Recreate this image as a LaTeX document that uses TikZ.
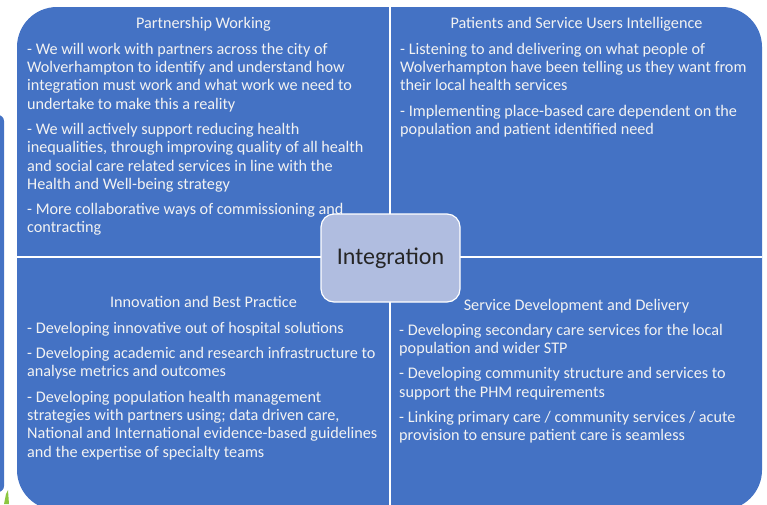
\documentclass[tikz,border=0pt]{standalone}
\usepackage{fontspec}
\setmainfont{Carlito}
\definecolor{quadblue}{HTML}{4472C4}
\definecolor{hubfill}{HTML}{B0BDE0}
\definecolor{leafgreen}{HTML}{8CC63F}
\begin{document}
\begin{tikzpicture}[x=1pt,y=-1pt,
  head/.style={anchor=base, inner sep=0pt, text=white!95!black, font=\fontsize{16.2}{18.3}\selectfont},
  body/.style={anchor=north west, inner sep=0pt, align=left, text=white!95!black, font=\fontsize{16.2}{18.3}\selectfont},
  hub/.style={draw=white, line width=1.2pt, fill=hubfill, rounded corners=13pt, minimum width=139pt, minimum height=88pt, text=black!85, font=\fontsize{24}{28}\selectfont}]
\clip (0,0) rectangle (767,504);
% bar of the next panel, just showing at the left
\fill[quadblue, rounded corners=6pt] (-20,115) rectangle (4,492);
\fill[leafgreen] (4,504) -- (6,494) -- (8,490) -- (9,504) -- cycle;
% the four quarters
\fill[quadblue, rounded corners=40pt] (17,7) rectangle (762,510);
\draw[white, line width=1.2pt] (390,7) -- (390,510);
\draw[white, line width=1.2pt] (17,257) -- (762,257);
% top left
\node[head] (pw) at (203.5,28) {Partnership Working};
\node[body] (pwtext) at (27,41.2) {\strut- We will work with partners across the city of\\
Wolverhampton to identify and understand how\\
integration must work and what work we need to\\
undertake to make this a reality\\[7pt]
- We will actively support reducing health\\
inequalities, through improving quality of all health\\
and social care related services in line with the\\
Health and Well-being strategy\\[7pt]
- More collaborative ways of commissioning and\\
contracting};
% top right
\node[head] (psu) at (576.5,28) {Patients and Service Users Intelligence};
\node[body] (psutext) at (400,41.2) {\strut- Listening to and delivering on what people of\\
Wolverhampton have been telling us they want from\\
their local health services\\[7pt]
- Implementing place-based care dependent on the\\
population and patient identified need};
% bottom left
\node[head] (ibp) at (203.5,307) {Innovation and Best Practice};
\node[body] (ibptext) at (27,320.2) {\strut- Developing innovative out of hospital solutions\\[7pt]
- Developing academic and research infrastructure to\\
analyse metrics and outcomes\\[7pt]
- Developing population health management\\
strategies with partners using; data driven care,\\
National and International evidence-based guidelines\\
and the expertise of specialty teams};
% bottom right
\node[head] (sdd) at (576.5,310) {Service Development and Delivery};
\node[body] (sddtext) at (399,322.2) {\strut- Developing secondary care services for the local\\
population and wider STP\\[7pt]
- Developing community structure and services to\\
support the PHM requirements\\[7pt]
- Linking primary care / community services / acute\\
provision to ensure patient care is seamless};
% centre
\node[hub] (integ) at (390.5,258) {Integration};
\end{tikzpicture}
\end{document}
